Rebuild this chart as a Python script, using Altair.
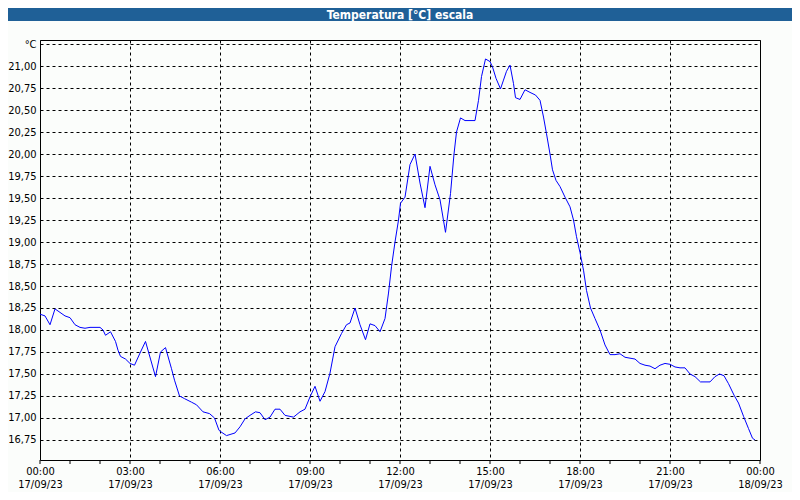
import json
import altair as alt
import pandas as pd

# minutes since 17/09/23 00:00 and temperature in °C
minutes = [0, 10, 20, 30, 40, 50, 60, 70, 80, 90, 100, 120, 126, 131, 141, 151, 156, 161, 171, 180,
           189, 201, 211, 221, 231, 241, 251, 263, 269, 279, 289, 303, 313, 326, 339, 349, 358,
           360, 373, 390, 400, 410, 420, 431, 440, 450, 460, 470, 480, 490, 507, 520, 530, 540,
           550, 560, 570, 580, 590, 603, 613, 620, 630, 640, 651, 660, 670, 680,
           690, 697, 703, 710, 717, 721, 730, 740, 750, 760, 770, 780, 790, 800, 811, 821, 828,
           833, 841, 850, 870,
           877, 883, 891, 900, 905, 912, 921, 927, 933, 940, 947, 951, 960, 970, 980, 991, 1000,
           1007, 1013, 1020, 1025, 1032, 1040, 1050, 1060, 1067, 1073, 1080,
           1087, 1093, 1101, 1110, 1120, 1130, 1140, 1150, 1160, 1170, 1180, 1190, 1200, 1210,
           1220, 1230, 1240, 1250, 1260, 1270, 1280, 1290, 1300, 1310, 1321, 1340, 1350, 1359,
           1368, 1377, 1388, 1397, 1407, 1417, 1425, 1430]
temps = [18.18, 18.16, 18.06, 18.24, 18.20, 18.16, 18.14, 18.06, 18.03, 18.02, 18.03, 18.03, 18.00,
         17.94, 17.98, 17.87, 17.77, 17.70, 17.67, 17.62, 17.60, 17.75, 17.87, 17.67, 17.47, 17.75,
         17.80, 17.56, 17.43, 17.25, 17.22, 17.18, 17.15, 17.07, 17.05, 17.00, 16.86,
         16.85, 16.80, 16.83, 16.90, 16.99, 17.03, 17.07, 17.06, 16.98, 17.01, 17.10, 17.10, 17.03,
         17.01, 17.07, 17.10, 17.24, 17.36, 17.19, 17.30, 17.51, 17.81, 17.96, 18.06, 18.08, 18.25,
         18.06, 17.89, 18.07, 18.05, 17.98,
         18.13, 18.42, 18.72, 19.00, 19.25, 19.44, 19.51, 19.88, 20.00, 19.67, 19.39, 19.86, 19.65,
         19.48, 19.11, 19.55, 20.00, 20.25, 20.41, 20.38, 20.38,
         20.61, 20.88, 21.08, 21.05, 20.99, 20.86, 20.74, 20.84, 20.94, 21.01, 20.80, 20.64, 20.62,
         20.73, 20.70, 20.67, 20.61, 20.42, 20.23, 20.00, 19.82, 19.70, 19.63, 19.51, 19.40, 19.25,
         19.06, 18.88,
         18.68, 18.45, 18.25, 18.13, 18.00, 17.83, 17.72, 17.72, 17.73, 17.69, 17.68, 17.67, 17.62,
         17.60, 17.59, 17.56, 17.60, 17.62, 17.61, 17.58, 17.57, 17.57, 17.50, 17.47, 17.41, 17.41,
         17.47, 17.50, 17.48, 17.39, 17.26, 17.17, 17.02, 16.88, 16.77, 16.75]

x_tick_minutes = [0, 180, 360, 540, 720, 900, 1080, 1260, 1440]
x_tick_time = ["00:00", "03:00", "06:00", "09:00", "12:00", "15:00", "18:00", "21:00", "00:00"]
x_tick_date = ["17/09/23", "17/09/23", "17/09/23", "17/09/23", "17/09/23", "17/09/23",
               "17/09/23", "17/09/23", "18/09/23"]
x_minor_ticks = [0, 60, 120, 180, 240, 300, 360, 420, 480, 540, 600, 660, 720, 780, 840, 900,
                 960, 1020, 1080, 1140, 1200, 1260, 1320, 1380, 1440]
y_ticks = [16.75, 17.00, 17.25, 17.50, 17.75, 18.00, 18.25, 18.50, 18.75, 19.00, 19.25, 19.50,
           19.75, 20.00, 20.25, 20.50, 20.75, 21.00, 21.25]
y_unit_label = "°C"
title_text = "Temperatura [°C] escala"

FONT = "DejaVu Sans Condensed"
W, H = 720, 420
x_dom = [0, 1440]
y_dom = [16.5227, 21.2955]

df = pd.DataFrame({"minute": minutes, "temp": temps})
ticks_df = pd.DataFrame({"minute": x_minor_ticks})
one = pd.DataFrame({"k": [0]})

x_label_expr = (
    "[" + json.dumps(x_tick_time) + "[round(datum.value/180)], "
    + json.dumps(x_tick_date) + "[round(datum.value/180)]]"
)
y_label_expr = (
    "datum.value > 21.2 ? '" + y_unit_label + "' : replace(format(datum.value, '.2f'), '.', ',')"
)

xscale = alt.Scale(domain=x_dom, nice=False, zero=False)
yscale = alt.Scale(domain=y_dom, nice=False, zero=False)

line = alt.Chart(df).mark_line(color="#0000ff", strokeWidth=1, clip=True).encode(
    x=alt.X("minute:Q", scale=xscale,
            axis=alt.Axis(values=x_tick_minutes, labelExpr=x_label_expr, grid=True,
                          gridDash=[3, 3], gridColor="#000000", gridOpacity=1, ticks=False,
                          domain=False, labelFont=FONT, labelFontSize=11, labelColor="#000000",
                          labelPadding=5, labelLineHeight=13, labelBaseline="top",
                          labelFlush=False, labelOverlap=False, title=None)),
    y=alt.Y("temp:Q", scale=yscale,
            axis=alt.Axis(values=y_ticks, labelExpr=y_label_expr, grid=True, gridDash=[3, 3],
                          gridColor="#000000", gridOpacity=1, ticks=False, domain=False,
                          labelFont=FONT, labelFontSize=11, labelColor="#000000",
                          labelPadding=4, labelFlush=False, labelOverlap=False, title=None)),
)

minor = alt.Chart(ticks_df).mark_rule(color="#000000", strokeWidth=1).encode(
    x=alt.X("minute:Q", scale=xscale),
    y=alt.value(H),
    y2=alt.value(H + 4),
)

bar = alt.Chart(one).mark_rect(color="#1f6097").encode(
    x=alt.value(-32), x2=alt.value(W + 32), y=alt.value(-32), y2=alt.value(-19)
)
title = alt.Chart(one).mark_text(
    text=title_text, color="#ffffff", font=FONT, fontSize=12, fontWeight="bold",
    align="center", baseline="middle"
).encode(x=alt.value(W / 2), y=alt.value(-25.5))

chart = alt.layer(bar, line, minor, title).properties(
    width=W, height=H,
    autosize=alt.AutoSizeParams(type="none"),
    padding={"left": 32, "top": 32, "right": 32, "bottom": 32},
    background="#fbfdfb",
).configure_view(stroke="#000000", strokeWidth=1)

chart.save("out.html", embed_options={"renderer": "svg", "actions": False})
